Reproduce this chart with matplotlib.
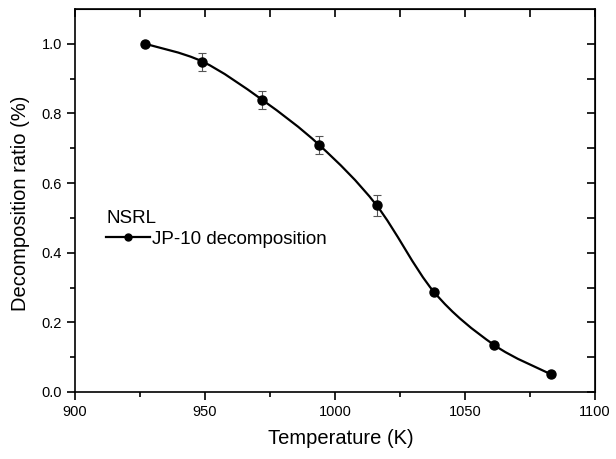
import numpy as np
import matplotlib.pyplot as plt
from matplotlib.path import Path
from matplotlib.patches import PathPatch
from matplotlib.lines import Line2D

plt.rcParams['font.family'] = ['Liberation Sans', 'DejaVu Sans']

# data
temperature = [927, 949, 972, 994, 1016, 1038, 1061, 1083]
ratio = [1.0, 0.949, 0.839, 0.709, 0.536, 0.288, 0.136, 0.051]
err_x = [949, 972, 994, 1016]
err_y = [0.949, 0.839, 0.709, 0.536]
err = [0.026, 0.025, 0.026, 0.030]

fig = plt.figure(figsize=(6.16, 4.59), dpi=100)
ax = fig.add_axes([0.1218, 0.146, 0.8441, 0.8344])

# smooth line through the points (Catmull-Rom as cubic bezier)
x = np.array(temperature, float)
y = np.array(ratio, float)
verts = [(x[0], y[0])]
codes = [Path.MOVETO]
for i in range(len(x) - 1):
    x0, y0 = (x[i - 1], y[i - 1]) if i > 0 else (x[i], y[i])
    x3, y3 = (x[i + 2], y[i + 2]) if i + 2 < len(x) else (x[i + 1], y[i + 1])
    c1 = (x[i] + (x[i + 1] - x0) / 6, y[i] + (y[i + 1] - y0) / 6)
    c2 = (x[i + 1] - (x3 - x[i]) / 6, y[i + 1] - (y3 - y[i]) / 6)
    verts += [c1, c2, (x[i + 1], y[i + 1])]
    codes += [Path.CURVE4] * 3
ax.add_patch(PathPatch(Path(verts, codes), fill=False, lw=1.6, color='black', zorder=2))

ax.errorbar(err_x, err_y, yerr=err, fmt='none', ecolor='#555555', elinewidth=0.8,
            capsize=3, capthick=0.8, zorder=1)
ax.plot(temperature, ratio, 'o', color='black', ms=6.5, zorder=3)

ax.set_xlim(900, 1100)
ax.set_ylim(0, 1.1)
ax.set_xticks([900, 950, 1000, 1050, 1100])
ax.set_xticks([925, 975, 1025, 1075], minor=True)
ax.set_yticks([0.0, 0.2, 0.4, 0.6, 0.8, 1.0])
ax.set_yticks([0.1, 0.3, 0.5, 0.7, 0.9], minor=True)
ax.set_yticklabels(['0.0', '0.2', '0.4', '0.6', '0.8', '1.0'])
ax.tick_params(which='both', direction='out', labelsize=10.5, width=1.2)
ax.tick_params(which='major', length=6)
ax.tick_params(which='minor', length=3.5)
for s in ax.spines.values():
    s.set_linewidth(1.2)

# inward ticks on top and right
sec = ax.secondary_xaxis('top')
sec.set_xticks([900, 950, 1000, 1050, 1100])
sec.set_xticks([925, 975, 1025, 1075], minor=True)
sec.tick_params(which='both', direction='in', length=5.5, width=1.2, labeltop=False)
secy = ax.secondary_yaxis('right')
secy.set_yticks([0.0, 0.2, 0.4, 0.6, 0.8, 1.0])
secy.set_yticks([0.1, 0.3, 0.5, 0.7, 0.9], minor=True)
secy.tick_params(which='both', direction='in', length=5.5, width=1.2, labelright=False)

ax.set_xlabel('Temperature (K)', fontsize=14.5, labelpad=7)
ax.set_ylabel('Decomposition ratio (%)', fontsize=14.5, labelpad=8)
ax.xaxis.label.set_x(0.512)
ax.yaxis.label.set_y(0.492)

handle = Line2D([], [], color='black', lw=1.6, marker='o', ms=5)
leg = ax.legend([handle], ['JP-10 decomposition'], title='NSRL', loc='upper left',
                bbox_to_anchor=(0.028, 0.52), frameon=False, fontsize=13.5,
                title_fontsize=13.5, alignment='left', handlelength=2.3,
                handletextpad=0.15, labelspacing=0.2)

fig.savefig('out.png', dpi=100)
